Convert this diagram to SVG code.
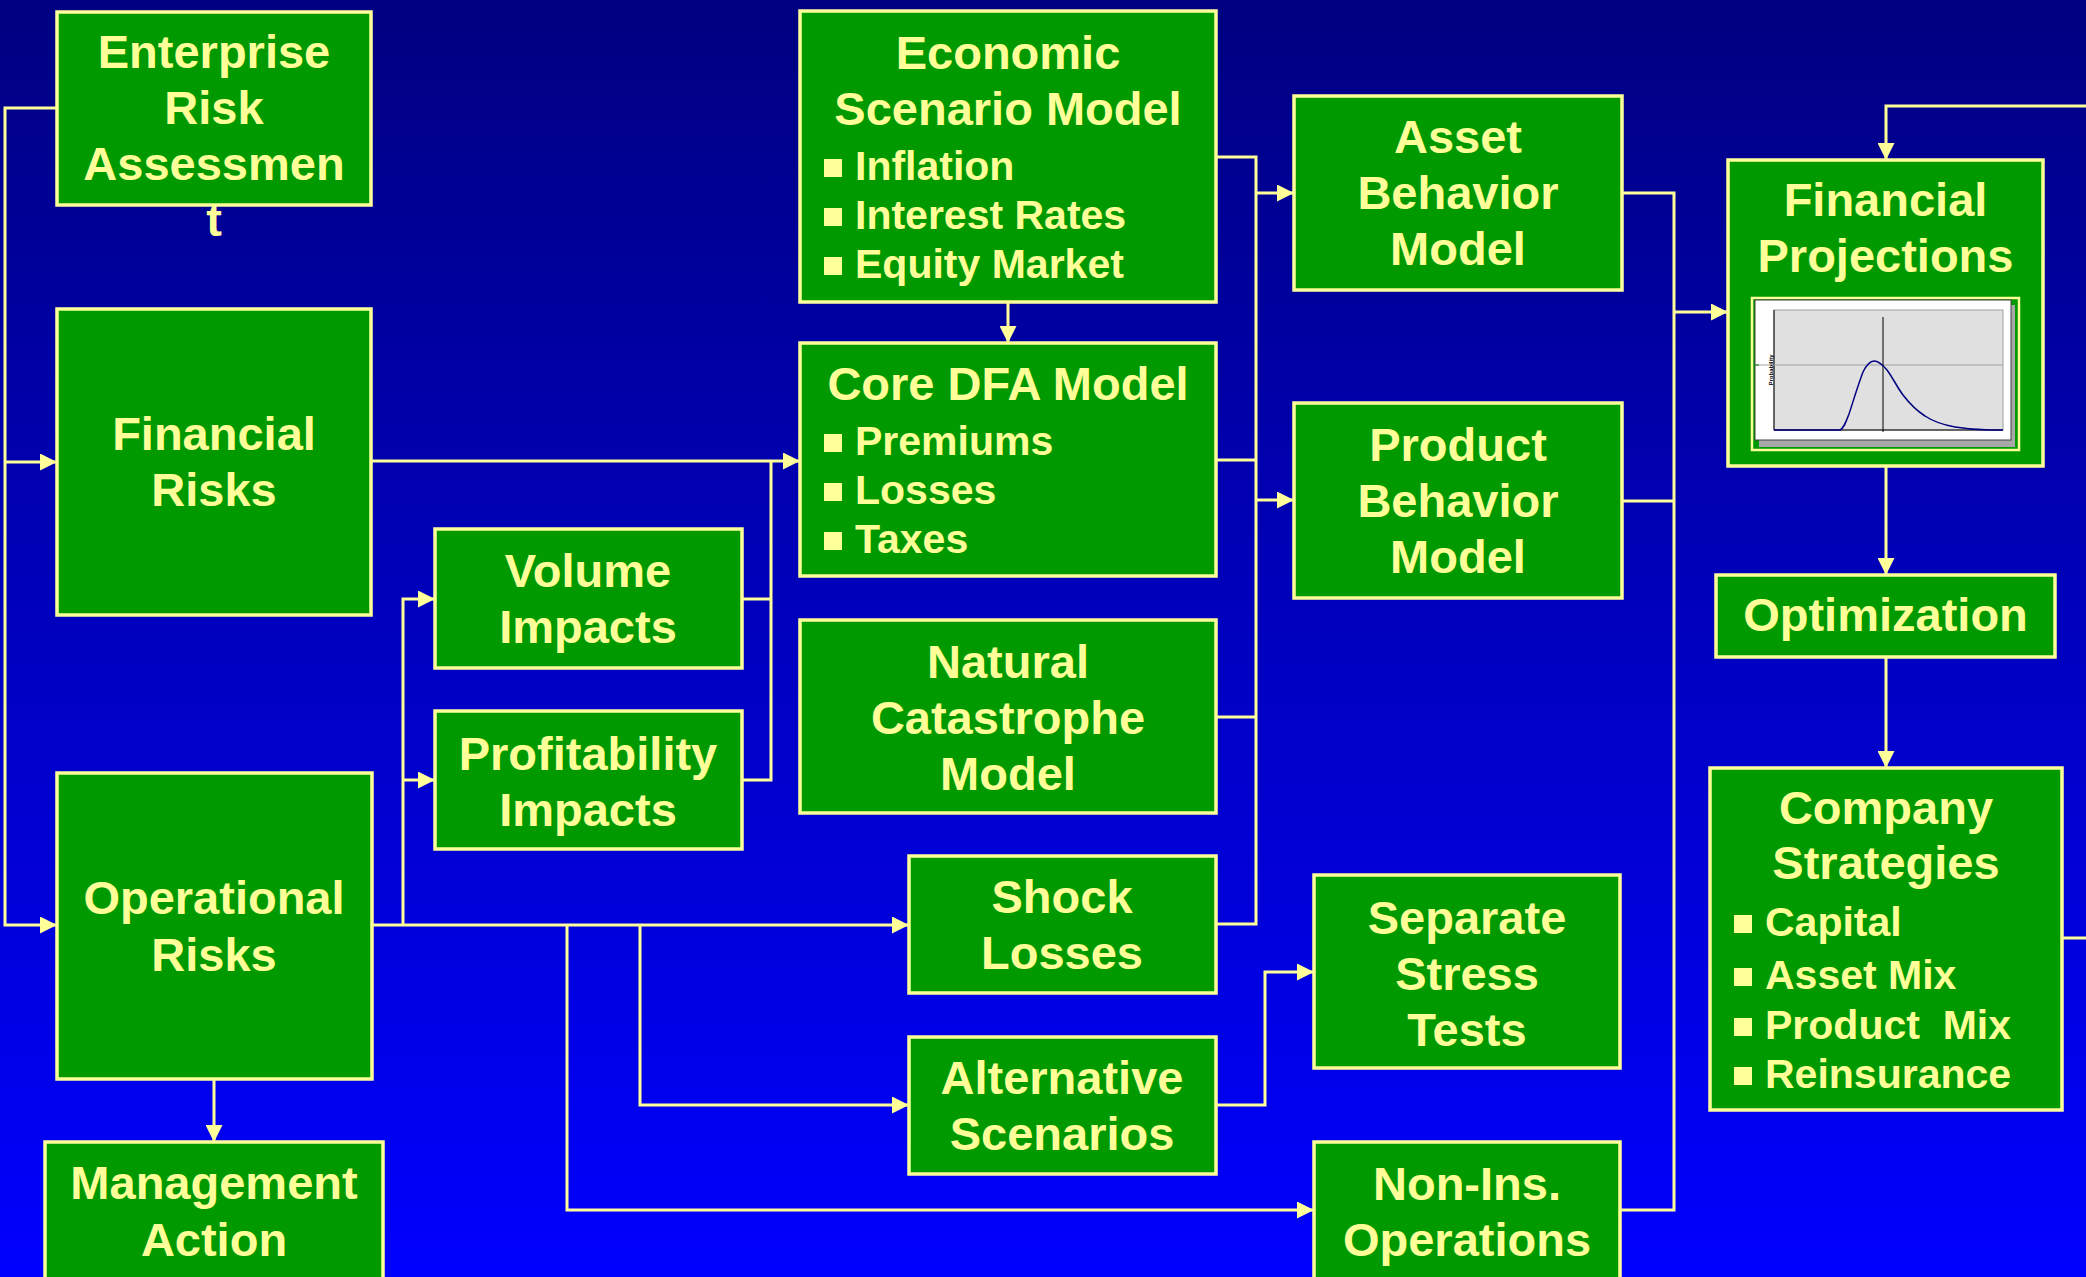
<svg xmlns="http://www.w3.org/2000/svg" width="2086" height="1277" viewBox="0 0 2086 1277">
<defs>
<linearGradient id="bg" x1="0" y1="0" x2="0" y2="1">
<stop offset="0" stop-color="#000080"/>
<stop offset="1" stop-color="#0000FF"/>
</linearGradient>
<marker id="arr" markerUnits="userSpaceOnUse" markerWidth="17" markerHeight="17" refX="17" refY="8.5" orient="auto">
<path d="M0,0 L17,8.5 L0,17 z" fill="#FFFF99"/>
</marker>
</defs>
<style>
.box{fill:#009900;stroke:#FFFF99;stroke-width:3.5}
.t{font-family:"Liberation Sans",Arial,sans-serif;font-weight:bold;font-size:47px;fill:#FFFF99;text-anchor:middle}
.b{font-family:"Liberation Sans",Arial,sans-serif;font-weight:bold;font-size:41px;fill:#FFFF99;white-space:pre}
.sq{fill:#FFFF99}
.c{fill:none;stroke:#FFFF99;stroke-width:3}
.a{fill:none;stroke:#FFFF99;stroke-width:3;marker-end:url(#arr)}
</style>
<rect x="0" y="0" width="2086" height="1277" fill="url(#bg)"/>

<g id="connectors">
<path class="a" d="M57,108 H5 V925 H57"/>
<path class="a" d="M5,462 H57"/>
<path class="a" d="M372,461 H800"/>
<path class="c" d="M742,599 H771"/>
<path class="c" d="M742,780 H771 V461"/>
<path class="a" d="M372,925 H909"/>
<path class="a" d="M403,925 V599 H435"/>
<path class="a" d="M403,780 H435"/>
<path class="a" d="M640,925 V1105 H909"/>
<path class="a" d="M567,925 V1210 H1314"/>
<path class="a" d="M214,1079 V1142"/>
<path class="a" d="M1008,302 V343"/>
<path class="c" d="M1216,157 H1256 V924 H1216"/>
<path class="c" d="M1216,460 H1256"/>
<path class="c" d="M1216,717 H1256"/>
<path class="a" d="M1256,193 H1294"/>
<path class="a" d="M1256,500 H1294"/>
<path class="a" d="M1216,1105 H1265 V972 H1314"/>
<path class="c" d="M1622,193 H1674 V1210 H1620"/>
<path class="c" d="M1622,501 H1674"/>
<path class="a" d="M1674,312 H1728"/>
<path class="a" d="M2086,106 H1886 V160"/>
<path class="a" d="M1886,466 V575"/>
<path class="a" d="M1886,657 V768"/>
<path class="c" d="M2062,938 H2086"/>
</g>

<g id="enterprise">
<rect class="box" x="57" y="12" width="314" height="193"/>
<text class="t" x="214" y="68">Enterprise</text>
<text class="t" x="214" y="124">Risk</text>
<text class="t" x="214" y="180">Assessmen</text>
<text class="t" x="214" y="236">t</text>
</g>

<g id="financial-risks">
<rect class="box" x="57" y="309" width="314" height="306"/>
<text class="t" x="214" y="450">Financial</text>
<text class="t" x="214" y="506">Risks</text>
</g>

<g id="operational-risks">
<rect class="box" x="57" y="773" width="315" height="306"/>
<text class="t" x="214" y="914">Operational</text>
<text class="t" x="214" y="971">Risks</text>
</g>

<g id="management-action">
<rect class="box" x="45" y="1142" width="338" height="150"/>
<text class="t" x="214" y="1199">Management</text>
<text class="t" x="214" y="1256">Action</text>
</g>

<g id="volume-impacts">
<rect class="box" x="435" y="529" width="307" height="139"/>
<text class="t" x="588" y="587">Volume</text>
<text class="t" x="588" y="643">Impacts</text>
</g>

<g id="profitability-impacts">
<rect class="box" x="435" y="711" width="307" height="138"/>
<text class="t" x="588" y="770">Profitability</text>
<text class="t" x="588" y="826">Impacts</text>
</g>

<g id="economic-scenario-model">
<rect class="box" x="800" y="11" width="416" height="291"/>
<text class="t" x="1008" y="69">Economic</text>
<text class="t" x="1008" y="125">Scenario Model</text>
<rect class="sq" x="824" y="159" width="18" height="18"/>
<text class="b" x="855" y="180">Inflation</text>
<rect class="sq" x="824" y="208" width="18" height="18"/>
<text class="b" x="855" y="229">Interest Rates</text>
<rect class="sq" x="824" y="257" width="18" height="18"/>
<text class="b" x="855" y="278">Equity Market</text>
</g>

<g id="core-dfa-model">
<rect class="box" x="800" y="343" width="416" height="233"/>
<text class="t" x="1008" y="400">Core DFA Model</text>
<rect class="sq" x="824" y="434" width="18" height="18"/>
<text class="b" x="855" y="455">Premiums</text>
<rect class="sq" x="824" y="483" width="18" height="18"/>
<text class="b" x="855" y="504">Losses</text>
<rect class="sq" x="824" y="532" width="18" height="18"/>
<text class="b" x="855" y="553">Taxes</text>
</g>

<g id="natural-catastrophe-model">
<rect class="box" x="800" y="620" width="416" height="193"/>
<text class="t" x="1008" y="678">Natural</text>
<text class="t" x="1008" y="734">Catastrophe</text>
<text class="t" x="1008" y="790">Model</text>
</g>

<g id="shock-losses">
<rect class="box" x="909" y="856" width="307" height="137"/>
<text class="t" x="1062" y="913">Shock</text>
<text class="t" x="1062" y="969">Losses</text>
</g>

<g id="alternative-scenarios">
<rect class="box" x="909" y="1037" width="307" height="137"/>
<text class="t" x="1062" y="1094">Alternative</text>
<text class="t" x="1062" y="1150">Scenarios</text>
</g>

<g id="asset-behavior-model">
<rect class="box" x="1294" y="96" width="328" height="194"/>
<text class="t" x="1458" y="153">Asset</text>
<text class="t" x="1458" y="209">Behavior</text>
<text class="t" x="1458" y="265">Model</text>
</g>

<g id="product-behavior-model">
<rect class="box" x="1294" y="403" width="328" height="195"/>
<text class="t" x="1458" y="461">Product</text>
<text class="t" x="1458" y="517">Behavior</text>
<text class="t" x="1458" y="573">Model</text>
</g>

<g id="separate-stress-tests">
<rect class="box" x="1314" y="875" width="306" height="193"/>
<text class="t" x="1467" y="934">Separate</text>
<text class="t" x="1467" y="990">Stress</text>
<text class="t" x="1467" y="1046">Tests</text>
</g>

<g id="non-ins-operations">
<rect class="box" x="1314" y="1142" width="306" height="150"/>
<text class="t" x="1467" y="1200">Non-Ins.</text>
<text class="t" x="1467" y="1256">Operations</text>
</g>

<g id="financial-projections">
<rect class="box" x="1728" y="160" width="315" height="306"/>
<text class="t" x="1885.5" y="216">Financial</text>
<text class="t" x="1885.5" y="272">Projections</text>
<rect x="1752" y="298" width="267" height="152" fill="#009900" stroke="#FFFF99" stroke-width="2.5"/>
<rect x="1759" y="305" width="256" height="142" fill="#A8A8A8"/>
<rect x="1755" y="300" width="256" height="140" fill="#FFFFFF" stroke="#404040" stroke-width="1"/>
<rect x="1774" y="310" width="229" height="120" fill="#E0E0E0" stroke="#A0A0A0" stroke-width="1"/>
<line x1="1774" y1="310" x2="1774" y2="430" stroke="#000000" stroke-width="1"/>
<line x1="1774" y1="430" x2="2003" y2="430" stroke="#000000" stroke-width="1"/>
<line x1="1755" y1="365" x2="2003" y2="365" stroke="#A0A0A0" stroke-width="1"/>
<line x1="1755" y1="365" x2="1759" y2="365" stroke="#008000" stroke-width="1"/>
<line x1="1883" y1="317" x2="1883" y2="432" stroke="#000000" stroke-width="1"/>
<text x="0" y="0" transform="translate(1773,370) rotate(-90)" font-family="Liberation Sans,Arial,sans-serif" font-weight="bold" font-size="6" fill="#000000" text-anchor="middle">Probability</text>
<path d="M1774,430 L1840,430 C1844,428 1846,422 1849,414 C1853,402 1858,385 1863,372 C1867,364 1870,361 1874,361 C1878,361 1882,364 1887,370 C1893,378 1897,387 1903,395 C1910,404 1917,411 1925,416 C1934,422 1944,425 1955,427 C1967,429 1978,430 1990,430 L2003,430" fill="none" stroke="#000080" stroke-width="1.5"/>
</g>

<g id="optimization">
<rect class="box" x="1716" y="575" width="339" height="82"/>
<text class="t" x="1885.5" y="631">Optimization</text>
</g>

<g id="company-strategies">
<rect class="box" x="1710" y="768" width="352" height="342"/>
<text class="t" x="1886" y="824">Company</text>
<text class="t" x="1886" y="879">Strategies</text>
<rect class="sq" x="1734" y="915" width="18" height="18"/>
<text class="b" x="1765" y="936">Capital</text>
<rect class="sq" x="1734" y="968" width="18" height="18"/>
<text class="b" x="1765" y="989">Asset Mix</text>
<rect class="sq" x="1734" y="1018" width="18" height="18"/>
<text class="b" x="1765" y="1039">Product  Mix</text>
<rect class="sq" x="1734" y="1067" width="18" height="18"/>
<text class="b" x="1765" y="1088">Reinsurance</text>
</g>
</svg>
